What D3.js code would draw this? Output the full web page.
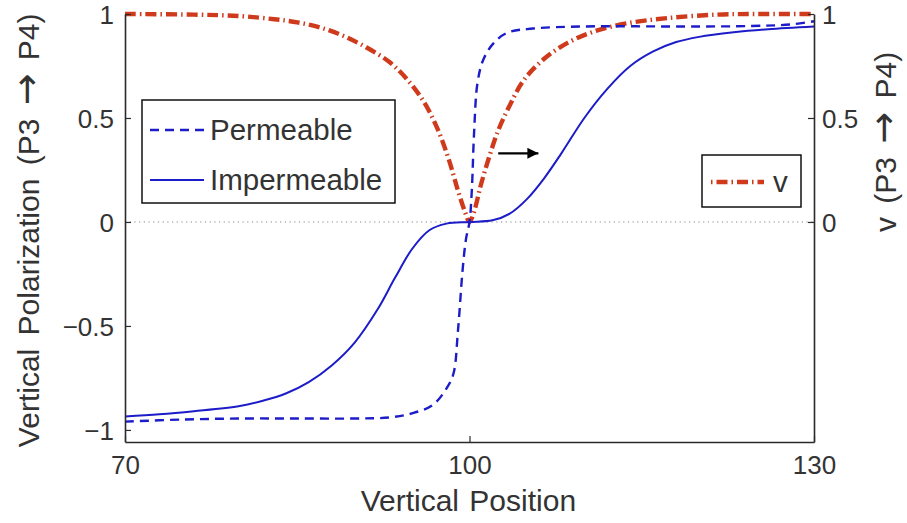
<!DOCTYPE html>
<html>
<head>
<meta charset="utf-8">
<script src="https://cdn.jsdelivr.net/npm/d3@7"></script>
<style>
  html, body { margin: 0; padding: 0; background: #fff; }
  svg { display: block; font-family: "Liberation Sans", Arial, sans-serif; }
</style>
</head>
<body>
<svg id="chart" width="907" height="523"></svg>
<script>
// ---- Data ----
const xTicks = [70, 100, 130];
const yLeftTicks = [-1, -0.5, 0, 0.5, 1];
const yRightTicks = [0, 0.5, 1];

const permX = [70, 75, 80, 85, 90, 93, 95, 96.8, 98, 98.6, 99.0, 99.4, 99.7, 100, 100.2, 100.4, 100.7, 101.2, 102.1, 103.3, 105.5, 109.9, 118.6, 124.4, 128, 130];
const permY = [-0.96, -0.95, -0.945, -0.945, -0.945, -0.94, -0.92, -0.88, -0.8, -0.73, -0.52, -0.23, -0.08, 0, 0.15, 0.43, 0.67, 0.78, 0.86, 0.91, 0.93, 0.94, 0.94, 0.942, 0.95, 0.965];

const impX = [70, 73, 76, 80, 82, 84, 86, 88, 90, 92, 93.5, 95, 96.5, 98, 100, 102, 103.5, 105, 106.5, 108, 110, 112, 114, 116, 118, 120, 123, 126, 130];
const impY = [-0.935, -0.925, -0.91, -0.885, -0.86, -0.825, -0.77, -0.69, -0.58, -0.42, -0.27, -0.13, -0.04, -0.008, 0, 0.008, 0.04, 0.11, 0.21, 0.33, 0.5, 0.64, 0.75, 0.82, 0.865, 0.89, 0.912, 0.927, 0.94];

const vX = [70, 76, 80, 83, 85, 87, 89, 91, 93, 94.5, 96, 97.2, 98.2, 99, 99.6, 100, 100.4, 101, 101.7, 102.5, 103.5, 104.7, 106.4, 108.5, 110.8, 113.7, 117.2, 121.5, 125, 130];
const vY = [1.0, 0.997, 0.99, 0.975, 0.96, 0.935, 0.895, 0.84, 0.77, 0.69, 0.58, 0.45, 0.3, 0.15, 0.05, 0, 0.05, 0.18, 0.31, 0.44, 0.56, 0.68, 0.78, 0.86, 0.915, 0.955, 0.98, 0.997, 1.0, 1.0];

const arrowX = [102.5, 106.0];
const arrowY = [0.33, 0.33];

const xLabel = "Vertical Position";
const yLeftLabel = ["Vertical Polarization (P3 ", "\u2192", " P4)"];
const yRightLabel = ["v (P3 ", "\u2192", " P4)"];
const legendLeftNames = ["Permeable", "Impermeable"];
const legendRightNames = ["v"];

// ---- Styles ----
const BLUE = "#1c1cc8";
const RED = "#cf3a1c";
const AXIS = "#2a2a2a";
const TEXT = "#333";

const svg = d3.select("#chart");
const x = d3.scaleLinear().domain([70, 130]).range([125, 814]);
const yL = d3.scaleLinear().domain([-1.058, 1]).range([442, 14]);
const yR = d3.scaleLinear().domain([-1.058, 1]).range([442, 14]);

// zero dotted line
svg.append("line")
  .attr("x1", x(70)).attr("x2", x(130))
  .attr("y1", yL(0)).attr("y2", yL(0))
  .attr("stroke", "#888").attr("stroke-width", 1)
  .attr("stroke-dasharray", "1.2,3.5");

const line = (xs, ys, sc) => d3.line()
  .x((d, i) => x(xs[i])).y((d, i) => sc(ys[i]))
  .curve(d3.curveCatmullRom.alpha(0.5))(xs);

// v curve (right axis)
svg.append("path").attr("d", line(vX, vY, yR))
  .attr("fill", "none").attr("stroke", RED).attr("stroke-width", 4.4)
  .attr("stroke-dasharray", "11,4,1.5,4");

// permeable (dashed)
svg.append("path").attr("d", line(permX, permY, yL))
  .attr("fill", "none").attr("stroke", BLUE).attr("stroke-width", 2.4)
  .attr("stroke-dasharray", "9,6");

// impermeable (solid)
svg.append("path").attr("d", line(impX, impY, yL))
  .attr("fill", "none").attr("stroke", BLUE).attr("stroke-width", 2);

// arrow
const defs = svg.append("defs");
defs.append("marker").attr("id", "arrowhead")
  .attr("viewBox", "0 0 10 10").attr("refX", 10).attr("refY", 5)
  .attr("markerWidth", 14).attr("markerHeight", 11)
  .attr("markerUnits", "userSpaceOnUse").attr("orient", "auto")
  .append("path").attr("d", "M0,0 L10,5 L0,10 Z").attr("fill", "#000");
svg.append("line")
  .attr("x1", x(arrowX[0])).attr("y1", yL(arrowY[0]))
  .attr("x2", x(arrowX[1])).attr("y2", yL(arrowY[1]))
  .attr("stroke", "#000").attr("stroke-width", 2.2)
  .attr("marker-end", "url(#arrowhead)");

// axes
function styleAxis(g) {
  g.selectAll("path.domain").attr("stroke", AXIS).attr("stroke-width", 1.6);
  g.selectAll(".tick line").attr("stroke", AXIS).attr("stroke-width", 1.2);
  g.selectAll(".tick text").attr("fill", TEXT)
    .style("font-size", "26px").style("font-family", "'Liberation Sans', Arial, sans-serif");
}
const fmt = d => d < 0 ? "\u2212" + Math.abs(d) : String(d);

const gx = svg.append("g").attr("transform", `translate(0,${yL.range()[0]})`)
  .call(d3.axisBottom(x).tickValues(xTicks).tickSizeInner(-6).tickSizeOuter(0).tickPadding(13).tickFormat(d => d))
  .call(styleAxis);
gx.selectAll(".tick text").attr("dy", "0.72em");
const gl = svg.append("g").attr("transform", `translate(${x.range()[0]},0)`)
  .call(d3.axisLeft(yL).tickValues(yLeftTicks).tickSizeInner(-6).tickSizeOuter(0).tickPadding(11).tickFormat(fmt))
  .call(styleAxis);
gl.selectAll(".tick text").attr("dy", "0.35em");
const gr = svg.append("g").attr("transform", `translate(${x.range()[1]},0)`)
  .call(d3.axisRight(yR).tickValues(yRightTicks).tickSizeInner(-6).tickSizeOuter(0).tickPadding(8).tickFormat(fmt))
  .call(styleAxis);
gr.selectAll(".tick text").attr("dy", "0.35em");

// axis labels
function addLabel(parts, transform) {
  const t = svg.append("text").attr("transform", transform)
    .attr("text-anchor", "middle").attr("fill", TEXT)
    .style("font-size", "30px").style("word-spacing", "5px");
  parts.forEach((p, i) => {
    const ts = t.append("tspan").text(p);
    if (i === 1) ts.style("font-family", "'DejaVu Sans', sans-serif").style("font-size", "38px");
  });
}
svg.append("text").attr("x", x(99.9)).attr("y", 511)
  .attr("text-anchor", "middle").attr("fill", TEXT)
  .style("font-size", "30px").style("word-spacing", "2px").text(xLabel);
addLabel(yLeftLabel, `translate(39,${yL(-0.04)}) rotate(-90)`);
addLabel(yRightLabel, `translate(896,${yR(0.385)}) rotate(-90)`);

// left legend
const lg = svg.append("g");
lg.append("rect").attr("x", 142).attr("y", 100).attr("width", 253).attr("height", 103)
  .attr("fill", "#fff").attr("stroke", "#111").attr("stroke-width", 1.5);
const legStyles = [{dash: "9,6", w: 2.4}, {dash: null, w: 2}];
legendLeftNames.forEach((name, i) => {
  const cy = 130 + i * 50;
  lg.append("line").attr("x1", 150).attr("x2", 204).attr("y1", cy).attr("y2", cy)
    .attr("stroke", BLUE).attr("stroke-width", legStyles[i].w)
    .attr("stroke-dasharray", legStyles[i].dash);
  lg.append("text").attr("x", 210).attr("y", cy).attr("dy", "0.35em")
    .attr("fill", TEXT).style("font-size", "29.5px").text(name);
});

// right legend
const rg = svg.append("g");
rg.append("rect").attr("x", 702).attr("y", 155).attr("width", 99).attr("height", 52)
  .attr("fill", "#fff").attr("stroke", "#111").attr("stroke-width", 1.5);
rg.append("line").attr("x1", 711).attr("x2", 764).attr("y1", 182).attr("y2", 182)
  .attr("stroke", RED).attr("stroke-width", 4.4).attr("stroke-dasharray", "1.5,4,11,4");
rg.append("text").attr("x", 773).attr("y", 182).attr("dy", "0.35em")
  .attr("fill", TEXT).style("font-size", "29.5px").text(legendRightNames[0]);
</script>
</body>
</html>
